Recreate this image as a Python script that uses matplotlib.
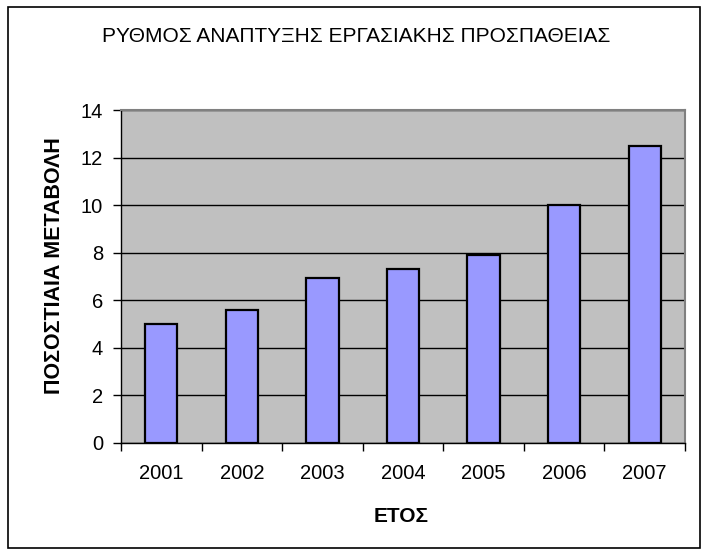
import matplotlib
matplotlib.use("Agg")
import matplotlib.pyplot as plt
from matplotlib.patches import Rectangle
import numpy as np

years = ["2001", "2002", "2003", "2004", "2005", "2006", "2007"]
values = [5.0, 5.6, 6.95, 7.3, 7.9, 10.0, 12.5]
y_ticks = [0, 2, 4, 6, 8, 10, 12, 14]

title = "ΡΥΘΜΟΣ ΑΝΑΠΤΥΞΗΣ ΕΡΓΑΣΙΑΚΗΣ ΠΡΟΣΠΑΘΕΙΑΣ"
xlabel = "ΕΤΟΣ"
ylabel = "ΠΟΣΟΣΤΙΑΙΑ ΜΕΤΑΒΟΛΗ"

plt.rcParams['font.family'] = ['Liberation Sans', 'DejaVu Sans']

W, H = 707, 557
fig = plt.figure(figsize=(W / 100, H / 100), dpi=100)
fig.patch.set_facecolor("white")

# outer chart border
fig.patches.append(Rectangle((8 / W, 1 - 548 / H), (700 - 8) / W, (548 - 7) / H,
                             transform=fig.transFigure, fill=False,
                             edgecolor="black", linewidth=1.2))

left, right, top, bottom = 121, 685, 110, 443
ax = fig.add_axes([left / W, 1 - bottom / H, (right - left) / W, (bottom - top) / H])
ax.set_facecolor("#C0C0C0")

x = np.arange(len(years))
ax.bar(x, values, width=0.4, color="#9999FF", edgecolor="black", linewidth=1.6, zorder=3)

ax.set_xlim(-0.5, len(years) - 0.5)
ax.set_ylim(0, 14)
ax.set_yticks(y_ticks)
ax.set_yticklabels([str(t) for t in y_ticks], fontsize=14.5)
ax.yaxis.grid(True, color="black", linewidth=1.0, zorder=1)
ax.set_axisbelow(True)

ax.set_xticks(x)
ax.set_xticklabels(years, fontsize=14.5)
ax.tick_params(axis="x", which="major", length=0, pad=15)
ax.set_xticks(np.arange(-0.5, len(years) + 0.5, 1), minor=True)
ax.tick_params(axis="x", which="minor", length=6, width=1, direction="out", color="black")
ax.tick_params(axis="y", length=6, width=1, direction="out", pad=7)

for s in ["top", "right"]:
    ax.spines[s].set_color("#808080")
    ax.spines[s].set_linewidth(1.5)
ax.spines["left"].set_color("black")
ax.spines["bottom"].set_color("black")
ax.spines["left"].set_linewidth(1)
ax.spines["bottom"].set_linewidth(1)

fig.text(356 / W, 1 - 37 / H, title, ha="center", va="center", fontsize=15)
fig.text(401 / W, 1 - 517 / H, xlabel, ha="center", va="center", fontsize=15, fontweight="bold")
fig.text(55 / W, 1 - 266 / H, ylabel, ha="center", va="center", fontsize=15.5,
         fontweight="bold", rotation=90)

fig.savefig("out.png", dpi=100)
